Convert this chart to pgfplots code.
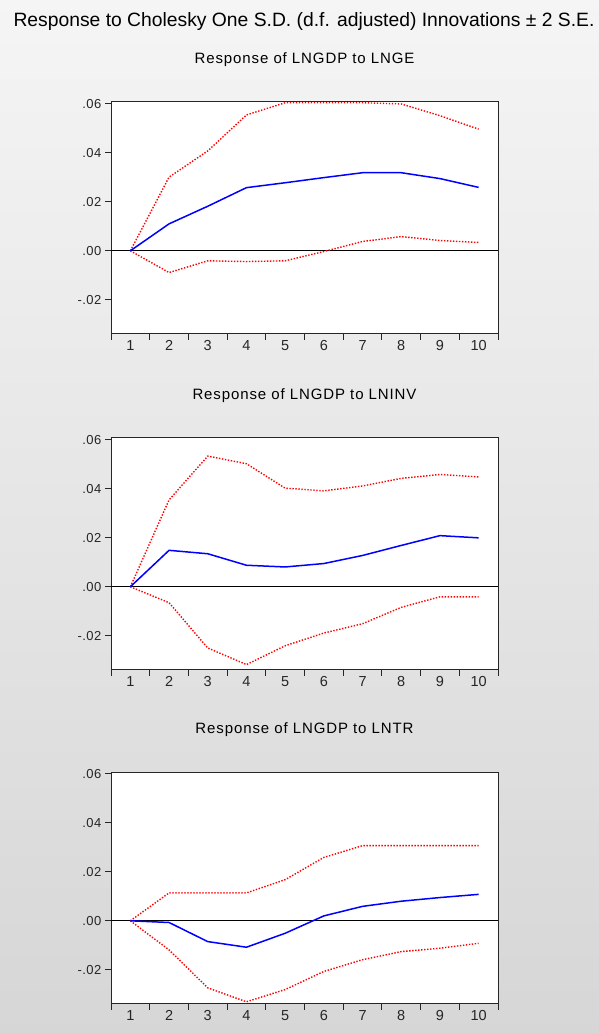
\documentclass[border=0pt]{standalone}
\usepackage{fontspec}
\setmainfont{Liberation Sans}
\usepackage{pgfplots}
\pgfplotsset{compat=1.18}

\pgfplotsset{
  irf/.style={
    scale only axis, width=387pt, height=232pt,
    xmin=0.5, xmax=10.5, ymin=-0.034, ymax=0.0608,
    scaled y ticks=false,
    axis background/.style={fill=white},
    axis line style={line width=1pt, black!85},
    tick align=outside, tick pos=left,
    major tick length=6pt,
    tick style={line width=1pt, black!85},
    xtick={0.5,1.5,...,10.5}, xticklabels={},
    extra x ticks={1,2,3,4,5,6,7,8,9,10},
    extra x tick labels={1,2,3,4,5,6,7,8,9,10},
    extra x tick style={major tick length=0pt},
    ytick={-0.02,0,0.02,0.04,0.06},
    yticklabels={-.02,.00,.02,.04,.06},
    yticklabel style={font=\fontsize{13}{15}\selectfont\addfontfeature{LetterSpace=4}, text=black!85},
    xticklabel style={font=\fontsize{14.5}{16}\selectfont, text=black!85, yshift=-3pt},
    title style={font=\fontsize{15}{17}\selectfont\addfontfeature{LetterSpace=6}, at={(0.5,1)}, anchor=center, yshift=36pt},
    clip=true,
  },
  resp/.style={blue, line width=1.5pt},
  band/.style={red, line width=1.4pt, dash pattern=on 1.4pt off 1.6pt},
  zero/.style={black, line width=1pt},
}

\begin{document}
\begin{tikzpicture}
\shade[top color=gray!8, bottom color=gray!32] (0,0) rectangle (599pt,1033pt);
\path[use as bounding box] (0,0) rectangle (599pt,1033pt);
\node[font=\fontsize{19.3}{21}\selectfont] at (304pt,1011pt)
  {Response to Cholesky One S.D. (d.f. adjusted) Innovations ± 2 S.E.};

% LNGE
\begin{axis}[irf, at={(111pt,699pt)}, anchor=south west, title={Response of LNGDP to LNGE}]
\addplot[zero] coordinates {(0.5,0) (10.5,0)};
\addplot[band] coordinates {(1,0) (2,0.0301) (3,0.0408) (4,0.0555) (5,0.0605) (6,0.0605) (7,0.0605) (8,0.0600) (9,0.0552) (10,0.0497)};
\addplot[band] coordinates {(1,0) (2,-0.0089) (3,-0.0041) (4,-0.0044) (5,-0.0041) (6,-0.0003) (7,0.0038) (8,0.0058) (9,0.0042) (10,0.0034)};
\addplot[resp] coordinates {(1,0) (2,0.0110) (3,0.0182) (4,0.0258) (5,0.0278) (6,0.0299) (7,0.0319) (8,0.0319) (9,0.0295) (10,0.0259)};
\end{axis}

% LNINV
\begin{axis}[irf, at={(111pt,363pt)}, anchor=south west, title={Response of LNGDP to LNINV}]
\addplot[zero] coordinates {(0.5,0) (10.5,0)};
\addplot[band] coordinates {(1,0) (2,0.0355) (3,0.0534) (4,0.0503) (5,0.0403) (6,0.0392) (7,0.0412) (8,0.0443) (9,0.0459) (10,0.0449)};
\addplot[band] coordinates {(1,0) (2,-0.0065) (3,-0.0250) (4,-0.0318) (5,-0.0241) (6,-0.0189) (7,-0.0151) (8,-0.0084) (9,-0.0041) (10,-0.0041)};
\addplot[resp] coordinates {(1,0) (2,0.0149) (3,0.0135) (4,0.0088) (5,0.0081) (6,0.0095) (7,0.0128) (8,0.0169) (9,0.0209) (10,0.0200)};
\end{axis}

% LNTR
\begin{axis}[irf, at={(111pt,29pt)}, anchor=south west, title={Response of LNGDP to LNTR}]
\addplot[zero] coordinates {(0.5,0) (10.5,0)};
\addplot[band] coordinates {(1,0) (2,0.0114) (3,0.0114) (4,0.0114) (5,0.0168) (6,0.0259) (7,0.0307) (8,0.0307) (9,0.0307) (10,0.0307)};
\addplot[band] coordinates {(1,0) (2,-0.0119) (3,-0.0274) (4,-0.0331) (5,-0.0281) (6,-0.0207) (7,-0.0159) (8,-0.0126) (9,-0.0112) (10,-0.0092)};
\addplot[resp] coordinates {(1,0) (2,-0.0007) (3,-0.0085) (4,-0.0108) (5,-0.0051) (6,0.0020) (7,0.0059) (8,0.0080) (9,0.0095) (10,0.0108)};
\end{axis}
\end{tikzpicture}
\end{document}
